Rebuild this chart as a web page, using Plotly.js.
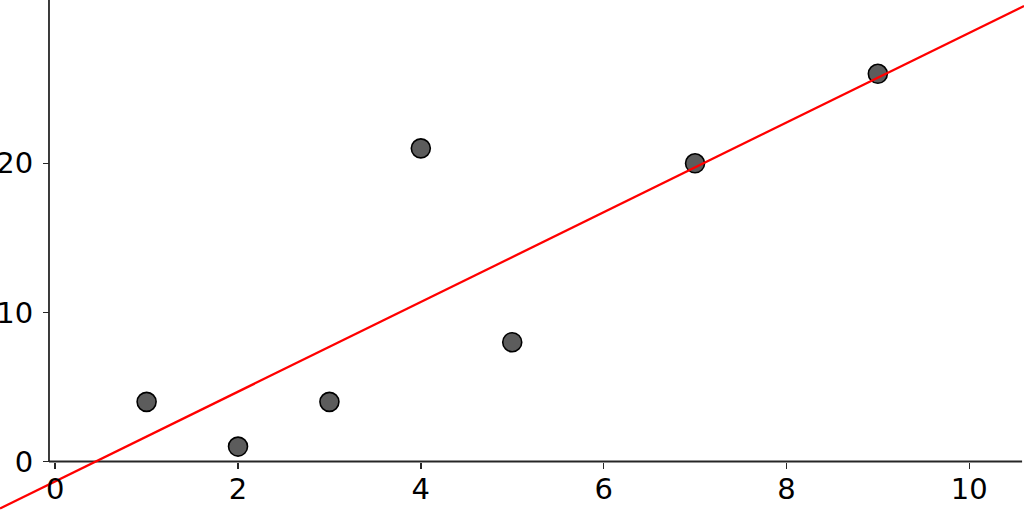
<!DOCTYPE html>
<html>
<head>
<meta charset="utf-8">
<script src="https://cdn.plot.ly/plotly-3.0.1.min.js"></script>
<style>html,body{margin:0;padding:0;background:#fff;}#chart{width:1024px;height:521px;}</style>
</head>
<body>
<div id="chart"></div>
<script>
// Data
const pointX = [1, 2, 3, 4, 5, 7, 9];
const pointY = [4, 1, 4, 21, 8, 20, 26];
// Fitted red line, endpoints read at image edges
const fitX = [-0.604, 10.6];
const fitY = [-3.15, 30.55];
const xTickVals = [0, 2, 4, 6, 8, 10];
const xTickText = ['0', '2', '4', '6', '8', '10'];
const yTickVals = [0, 10, 20];
const yTickText = ['0', '10', '20'];

const xRange = [-0.604, 10.599];
const yRange = [-3.99, 30.95];
const spineX = -0.068;   // position of the left spine (data x)
const spineXEnd = 10.578;

const traces = [
  {
    x: pointX, y: pointY, type: 'scatter', mode: 'markers',
    marker: {size: 19, color: '#5c5c5c', line: {color: '#000000', width: 1.6}},
    cliponaxis: false, hoverinfo: 'skip'
  },
  {
    x: fitX, y: fitY, type: 'scatter', mode: 'lines',
    line: {color: '#ff0000', width: 2.3}, hoverinfo: 'skip'
  }
];

const layout = {
  width: 1024, height: 521,
  margin: {l: 0, r: 0, t: 0, b: 0, pad: 0},
  paper_bgcolor: '#ffffff', plot_bgcolor: 'rgba(0,0,0,0)',
  showlegend: false,
  font: {family: 'DejaVu Sans', size: 29, color: '#000000'},
  xaxis: {
    range: xRange, anchor: 'free', position: (521 - 461.5) / 521,
    showgrid: false, zeroline: false, showline: false,
    tickmode: 'array', tickvals: xTickVals, ticktext: xTickText,
    ticks: 'outside', ticklen: 6, tickwidth: 1.5, tickcolor: '#262626',
    ticklabelstandoff: -4,
    tickfont: {family: 'DejaVu Sans', size: 29, color: '#000000'}
  },
  yaxis: {
    range: yRange, anchor: 'free', position: 49 / 1024,
    showgrid: false, zeroline: false, showline: false,
    tickmode: 'array', tickvals: yTickVals, ticktext: yTickText,
    ticks: 'outside', ticklen: 6, tickwidth: 1.5, tickcolor: '#262626',
    ticklabelstandoff: 4,
    tickfont: {family: 'DejaVu Sans', size: 29, color: '#000000'}
  },
  shapes: [
    {type: 'line', xref: 'x', yref: 'y', x0: spineX, x1: spineX, y0: 0, y1: yRange[1],
     line: {color: '#262626', width: 1.8}, layer: 'below'},
    {type: 'line', xref: 'x', yref: 'y', x0: spineX, x1: spineXEnd, y0: 0, y1: 0,
     line: {color: '#262626', width: 1.8}, layer: 'below'}
  ]
};

Plotly.newPlot('chart', traces, layout, {staticPlot: true, displayModeBar: false});
</script>
</body>
</html>
